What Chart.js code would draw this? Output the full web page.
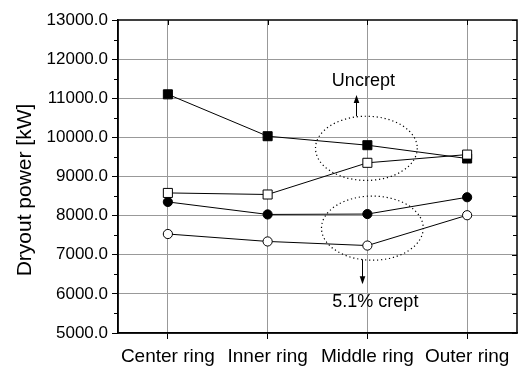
<!DOCTYPE html>
<html>
<head>
<meta charset="utf-8">
<script src="https://cdn.jsdelivr.net/npm/chart.js@4.4.1/dist/chart.umd.min.js"></script>
<style>
  html, body { margin: 0; padding: 0; background: #fff; }
  #wrap { width: 526px; height: 374px; }
</style>
</head>
<body>
<div id="wrap"><canvas id="dryout_chart" width="526" height="374"></canvas></div>
<script>
const categories = ['Center ring', 'Inner ring', 'Middle ring', 'Outer ring']
const uncreptSolid = [11100, 10030, 9800, 9460]
const uncreptOpen = [8580, 8540, 9350, 9560]
const creptSolid = [8350, 8030, 8040, 8470]
const creptOpen = [7530, 7340, 7235, 8010]
const yTicks = [5000, 6000, 7000, 8000, 9000, 10000, 11000, 12000, 13000]

const FONT = '"Liberation Sans", Arial, sans-serif'

// dotted ellipses + arrows + notes, placed in data units (x = category index)
const notes = [
  {text: 'Uncrept', cx: 1.99, cy: 9720, rx: 0.51, ry: 820, arrowX: 1.89, from: 10540, to: 11080, tx: 1.96, ty: 11430},
  {text: '5.1% crept', cx: 2.05, cy: 7680, rx: 0.51, ry: 820, arrowX: 1.95, from: 6880, to: 6245, tx: 2.08, ty: 5785}
]

const makeSet = (data, style, filled, order) => ({
  data,
  borderColor: '#000',
  borderWidth: 1,
  pointStyle: style,
  pointRadius: style === 'rect' ? 6.4 : 4.6,
  pointHoverRadius: style === 'rect' ? 6.4 : 4.6,
  pointBackgroundColor: filled ? '#000' : '#fff',
  pointBorderColor: '#000',
  pointBorderWidth: 1,
  tension: 0,
  order
})

const framePlugin = {
  id: 'frame',
  afterDatasetsDraw(chart) {
    const {ctx, chartArea: a, scales: {x, y}} = chart
    ctx.save()
    ctx.strokeStyle = '#000'
    ctx.lineWidth = 1
    // minor ticks (left outside, right inside) every 500
    for (let v = 5000; v <= 13000; v += 500) {
      const py = Math.round(y.getPixelForValue(v)) + 0.5
      const major = v % 1000 === 0
      ctx.beginPath()
      if (!major) { ctx.moveTo(a.left - 4, py); ctx.lineTo(a.left, py) }
      ctx.moveTo(a.right, py); ctx.lineTo(a.right - (major ? 5 : 4), py)
      ctx.stroke()
    }
    // top ticks inside
    categories.forEach((c, i) => {
      const px = Math.round(x.getPixelForValue(i)) + 0.5
      ctx.beginPath()
      ctx.moveTo(px, a.top); ctx.lineTo(px, a.top + 5)
      ctx.stroke()
    })
    // box
    ctx.lineWidth = 1.5
    ctx.strokeRect(a.left, a.top, a.right - a.left, a.bottom - a.top)

    // annotations
    notes.forEach(n => {
      const cx = x.getPixelForValue(n.cx), cy = y.getPixelForValue(n.cy)
      const rx = Math.abs(x.getPixelForValue(n.cx + n.rx) - cx)
      const ry = Math.abs(y.getPixelForValue(n.cy + n.ry) - cy)
      ctx.lineWidth = 1.2
      ctx.setLineDash([1.2, 2.8])
      ctx.strokeStyle = '#000'
      ctx.beginPath()
      ctx.ellipse(cx, cy, rx, ry, 0, 0, Math.PI * 2)
      ctx.stroke()
      ctx.setLineDash([])
      ctx.lineWidth = 1
      const ax = Math.round(x.getPixelForValue(n.arrowX)) + 0.5
      const y0 = y.getPixelForValue(n.from), y1 = y.getPixelForValue(n.to)
      const dir = y1 < y0 ? 1 : -1
      ctx.beginPath()
      ctx.moveTo(ax, y0); ctx.lineTo(ax, y1 + dir * 4)
      ctx.stroke()
      ctx.fillStyle = '#000'
      ctx.beginPath()
      ctx.moveTo(ax, y1)
      ctx.lineTo(ax - 2.8, y1 + dir * 8)
      ctx.lineTo(ax + 2.8, y1 + dir * 8)
      ctx.closePath()
      ctx.fill()
      ctx.font = '18px ' + FONT
      ctx.textAlign = 'center'
      ctx.textBaseline = 'middle'
      ctx.fillText(n.text, x.getPixelForValue(n.tx), y.getPixelForValue(n.ty))
    })

    // y axis title
    ctx.translate(25, 190)
    ctx.rotate(-Math.PI / 2)
    ctx.font = '21px ' + FONT
    ctx.textAlign = 'center'
    ctx.textBaseline = 'middle'
    ctx.fillText('Dryout power [kW]', 0, 0)
    ctx.restore()
  }
}

const ctxCanvas = document.getElementById('dryout_chart').getContext('2d')
const myChart = new Chart(ctxCanvas, {
  type: 'line',
  data: {
    labels: categories,
    datasets: [
      makeSet(uncreptOpen, 'rect', false, 1),
      makeSet(uncreptSolid, 'rect', true, 2),
      makeSet(creptOpen, 'circle', false, 3),
      makeSet(creptSolid, 'circle', true, 4)
    ]
  },
  options: {
    responsive: false,
    animation: false,
    layout: {padding: {top: 20, right: 9, left: 0, bottom: 0}},
    plugins: {legend: {display: false}, tooltip: {enabled: false}},
    scales: {
      x: {
        type: 'category',
        offset: true,
        afterFit: (scale) => { scale.height = 41 },
        grid: {
          color: '#999', lineWidth: 1, borderDash: [1, 2], offset: false,
          drawTicks: true, tickLength: 6, tickColor: '#000', tickBorderDash: [], tickWidth: 1
        },
        border: {display: true, color: '#000', width: 1.5},
        ticks: {color: '#000', padding: 6, font: {family: FONT, size: 19}, maxRotation: 0}
      },
      y: {
        min: 5000,
        max: 13000,
        afterFit: (scale) => { scale.width = 118 },
        afterBuildTicks: (scale) => { scale.ticks = yTicks.map(v => ({value: v})) },
        grid: {
          color: (c) => (c.tick && (c.tick.value === 5000 || c.tick.value === 13000)) ? 'rgba(0,0,0,0)' : '#999',
          lineWidth: 1, borderDash: [1, 2],
          drawTicks: true, tickLength: 6, tickColor: '#000', tickBorderDash: [], tickWidth: 1
        },
        border: {display: true, color: '#000', width: 1.5},
        ticks: {color: '#000', padding: 4, font: {family: FONT, size: 17}, callback: (v) => Number(v).toFixed(1)}
      }
    }
  },
  plugins: [framePlugin]
})
</script>
</body>
</html>
